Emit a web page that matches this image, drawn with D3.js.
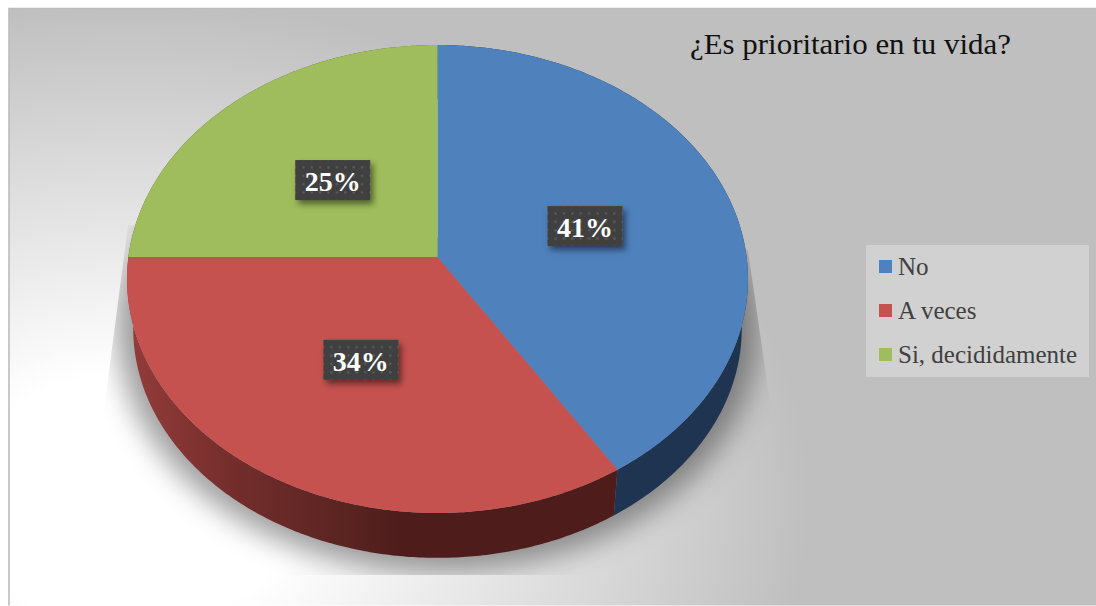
<!DOCTYPE html>
<html>
<head>
<meta charset="utf-8">
<script src="https://cdn.jsdelivr.net/npm/d3@7/dist/d3.min.js"></script>
<style>
html,body{margin:0;padding:0;background:#fff;overflow:hidden}
svg{display:block}
</style>
</head>
<body>
<svg id="chart" width="1096" height="606"></svg>
<script>
const titleText = "¿Es prioritario en tu vida?";
const categories = ["No", "A veces", "Si, decididamente"];
const shares = [41, 34, 25];
const topColors = ["#4f81bd", "#c5524f", "#9fbd5c"];
const wallColors = ["#1e3450", "url(#wallRed)", "#4d5e2c"];

const svg = d3.select("#chart");
const defs = svg.append("defs");

// Tilted disc: maps a point of the unit circle plane onto the screen
const centre = {x: 437.5, y: 257};
const persp = {a: 309.1, b: 231.9, k: -0.094};
const depth = {scale: 0.98, drop: 50};

function project(r, angle, lower) {
  const u = r * Math.sin(angle), v = -r * Math.cos(angle);
  const w = 1 + persp.k * v;
  const s = lower ? depth.scale : 1;
  const d = lower ? depth.drop : 0;
  return [centre.x + s * persp.a * u / w, centre.y + s * persp.b * v / w + d];
}
const line = d3.line();
const angleSteps = (a0, a1) => {
  const n = Math.max(2, Math.ceil((a1 - a0) / 0.01));
  return d3.range(n + 1).map(i => a0 + (a1 - a0) * i / n);
};

const slices = d3.pie().sort(null).startAngle(0).endAngle(2 * Math.PI)(shares);

// Backdrop: elliptical glow from the lower left, fading out to flat grey
const bg = defs.append("radialGradient").attr("id", "backdrop")
  .attr("gradientUnits", "userSpaceOnUse")
  .attr("cx", 0).attr("cy", 0).attr("r", 1)
  .attr("gradientTransform", "translate(130,500) scale(680,500)");
bg.append("stop").attr("offset", 0.25).attr("stop-color", "#ffffff");
bg.append("stop").attr("offset", 1).attr("stop-color", "#bfbfbf");

const wallGrad = defs.append("linearGradient").attr("id", "wallRed")
  .attr("gradientUnits", "userSpaceOnUse")
  .attr("x1", 130).attr("y1", 0).attr("x2", 400).attr("y2", 0);
[[0, "#933c3a"], [0.4, "#722d2b"], [0.8, "#5a2421"], [1, "#4e1d1b"]].forEach(([o, c]) =>
  wallGrad.append("stop").attr("offset", o).attr("stop-color", c));

defs.append("filter").attr("id", "discShadow")
  .attr("x", "-20%").attr("y", "-20%").attr("width", "140%").attr("height", "140%")
  .append("feGaussianBlur").attr("stdDeviation", 14);

defs.append("clipPath").attr("id", "shadowClip").append("path")
  .attr("d", line([[128, 225], [104, 410], [104, 575], [771, 575], [771, 410], [748, 250]]) + "Z");

const labelShadow = defs.append("filter").attr("id", "labelShadow")
  .attr("x", "-20%").attr("y", "-30%").attr("width", "140%").attr("height", "170%");
labelShadow.append("feDropShadow")
  .attr("dx", 3).attr("dy", 4).attr("stdDeviation", 3)
  .attr("flood-color", "#000").attr("flood-opacity", 0.5);

const dots = defs.append("pattern").attr("id", "dotted")
  .attr("patternUnits", "userSpaceOnUse").attr("width", 8.4).attr("height", 8.4);
dots.append("rect").attr("width", 8.4).attr("height", 8.4).attr("fill", "#404040");
dots.append("circle").attr("cx", 4.2).attr("cy", 4.2).attr("r", 1.3).attr("fill", "#585858");

svg.append("rect").attr("x", 9).attr("y", 9).attr("width", 1087).attr("height", 596.5)
  .attr("fill", "url(#backdrop)");
svg.append("path").attr("d", "M9,605.5V8.5H1096")
  .attr("fill", "none").attr("stroke", "#bcbcbc").attr("stroke-width", 1.6);

// Soft shadow under the disc, cut off by the floor plane
const rimAngles = angleSteps(0, 2 * Math.PI);
svg.append("g").attr("clip-path", "url(#shadowClip)")
  .append("path")
  .attr("d", line(rimAngles.map(a => project(1.05, a, true))) + "Z")
  .attr("fill", "#000").attr("fill-opacity", 0.38)
  .attr("filter", "url(#discShadow)");

// Side walls
svg.append("g").selectAll("path").data(slices).join("path")
  .attr("d", d => {
    const steps = angleSteps(d.startAngle, d.endAngle);
    return line(steps.map(a => project(1, a, false))
      .concat(steps.slice().reverse().map(a => project(1, a, true)))) + "Z";
  })
  .attr("fill", (d, i) => wallColors[i]);

// Top face
svg.append("g").selectAll("path").data(slices).join("path")
  .attr("d", d => line([project(0, 0, false)]
    .concat(angleSteps(d.startAngle, d.endAngle).map(a => project(1, a, false)))) + "Z")
  .attr("fill", (d, i) => topColors[i]);

// Percentage labels, halfway out along each slice in the disc plane
const labels = svg.append("g").selectAll("g").data(slices).join("g")
  .attr("transform", d => {
    const [x, y] = project(0.5, (d.startAngle + d.endAngle) / 2, false);
    return `translate(${x + 1},${centre.y + (y - centre.y) * 0.97})`;
  });
labels.append("rect")
  .attr("x", -37.5).attr("y", -20).attr("width", 75).attr("height", 40)
  .attr("fill", "url(#dotted)").attr("filter", "url(#labelShadow)");
labels.append("text")
  .attr("text-anchor", "middle").attr("y", 11)
  .attr("font-family", "Liberation Serif").attr("font-weight", "bold")
  .attr("font-size", 28).attr("fill", "#fff")
  .text(d => d.value + "%");

// Title
svg.append("text").attr("x", 690).attr("y", 54)
  .attr("font-family", "Liberation Serif").attr("font-size", 29).attr("fill", "#111")
  .attr("textLength", 321).attr("lengthAdjust", "spacingAndGlyphs")
  .text(titleText);

// Legend
svg.append("rect").attr("x", 866).attr("y", 245).attr("width", 223).attr("height", 132)
  .attr("fill", "#d1d1d1");
const rowY = d3.scalePoint().domain(categories).range([266.5, 354.5]);
const legend = svg.append("g").selectAll("g").data(categories).join("g")
  .attr("transform", d => `translate(879,${rowY(d)})`);
legend.append("rect").attr("x", 0).attr("y", -6.5).attr("width", 13).attr("height", 13)
  .attr("fill", (d, i) => topColors[i]);
legend.append("text").attr("x", 19).attr("y", 8.5)
  .attr("font-family", "Liberation Serif").attr("font-size", 25).attr("fill", "#404040")
  .text(d => d);
</script>
</body>
</html>
